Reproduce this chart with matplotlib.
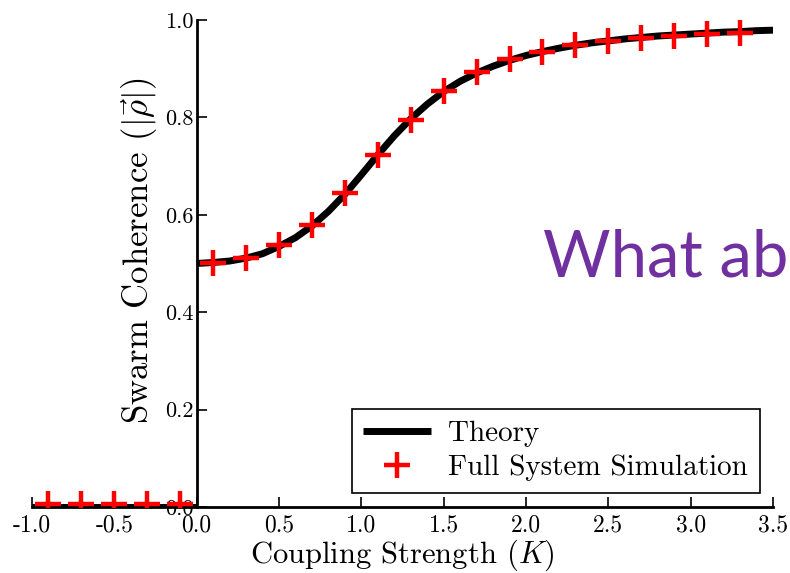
import matplotlib
matplotlib.use('Agg')
import matplotlib.pyplot as plt

plt.rcParams['font.family'] = 'serif'
plt.rcParams['font.serif'] = ['cmr10']
plt.rcParams['mathtext.fontset'] = 'cm'
plt.rcParams['axes.unicode_minus'] = False

# theory curve
K_NEG = [-1.0, 0.0]
RHO_NEG = [0.0, 0.0]
K_POS = [0.0, 0.1, 0.2, 0.3, 0.4, 0.5, 0.6, 0.7, 0.8, 0.9, 1.0, 1.1, 1.2,
         1.3, 1.4, 1.5, 1.6, 1.7, 1.8, 1.9, 2.0, 2.1, 2.2, 2.3, 2.4, 2.5,
         2.6, 2.7, 2.8, 2.9, 3.0, 3.1, 3.2, 3.3, 3.4, 3.5]
RHO_POS = [0.500, 0.502, 0.505, 0.511, 0.520, 0.535, 0.553, 0.577, 0.607,
           0.642, 0.682, 0.723, 0.762, 0.797, 0.827, 0.853, 0.874, 0.891,
           0.905, 0.917, 0.927, 0.935, 0.942, 0.948, 0.953, 0.957, 0.961,
           0.964, 0.967, 0.969, 0.971, 0.973, 0.975, 0.976, 0.978, 0.979]

# simulation points
K_SIM = [-0.9, -0.7, -0.5, -0.3, -0.1, 0.1, 0.3, 0.5, 0.7, 0.9, 1.1, 1.3,
         1.5, 1.7, 1.9, 2.1, 2.3, 2.5, 2.7, 2.9, 3.1, 3.3]
RHO_SIM = [0.006, 0.006, 0.006, 0.006, 0.006, 0.501, 0.511, 0.538, 0.579,
           0.645, 0.723, 0.795, 0.855, 0.893, 0.919, 0.935, 0.949, 0.957,
           0.963, 0.968, 0.972, 0.974]

XTICKS = [-1.0, -0.5, 0.0, 0.5, 1.0, 1.5, 2.0, 2.5, 3.0, 3.5]
XTICKLABELS = ['-1.0', '-0.5', '0.0', '0.5', '1.0', '1.5', '2.0', '2.5', '3.0', '3.5']
YTICKS = [0.0, 0.2, 0.4, 0.6, 0.8, 1.0]
YTICKLABELS = ['0.0', '0.2', '0.4', '0.6', '0.8', '1.0']

fig = plt.figure(figsize=(7.9, 5.73), dpi=100)
ax = fig.add_axes([0.0405, 0.1152, 0.938, 0.85])

ax.plot(K_NEG, RHO_NEG, color='black', lw=5, solid_capstyle='butt', zorder=2)
ax.plot(K_POS, RHO_POS, color='black', lw=5, solid_capstyle='butt',
        label='Theory', zorder=2)
ax.plot(K_SIM, RHO_SIM, ls='none', marker='+', color='red', ms=19, mew=3.2,
        label='Full System Simulation', zorder=3)

ax.set_xlim(-1.0, 3.5)
ax.set_ylim(0.0, 1.0)
ax.spines['top'].set_visible(False)
ax.spines['right'].set_visible(False)
ax.spines['left'].set_position(('data', 0))
ax.spines['left'].set_linewidth(2)
ax.spines['bottom'].set_linewidth(2)
ax.set_xticks(XTICKS)
ax.set_xticklabels(XTICKLABELS)
ax.set_yticks(YTICKS)
ax.set_yticklabels(YTICKLABELS)
ax.tick_params(direction='in', length=7, width=1.2)
ax.tick_params(axis='x', labelsize=17, pad=5)
ax.tick_params(axis='y', labelsize=16, pad=2)

ax.set_xlabel(r'Coupling Strength ($K$)', fontsize=22, labelpad=1)
ax.set_ylabel(r'Swarm Coherence ($|\vec{\rho}|$)', fontsize=25)
# label sits left of the spine, which is at K = 0
ax.yaxis.set_label_coords(0.172, 0.525)

leg = ax.legend(loc='lower right', fontsize=21, fancybox=False,
                edgecolor='black', framealpha=1, handlelength=2.33,
                handletextpad=0.58, labelspacing=0.25, borderpad=0.4,
                borderaxespad=0, bbox_to_anchor=(0.982, 0.029))
leg.get_frame().set_linewidth(1.2)

fig.text(0.687, 0.517, 'What ab', family='Lato', fontsize=47, color='#7030A0')

fig.savefig('out.png', dpi=100)
